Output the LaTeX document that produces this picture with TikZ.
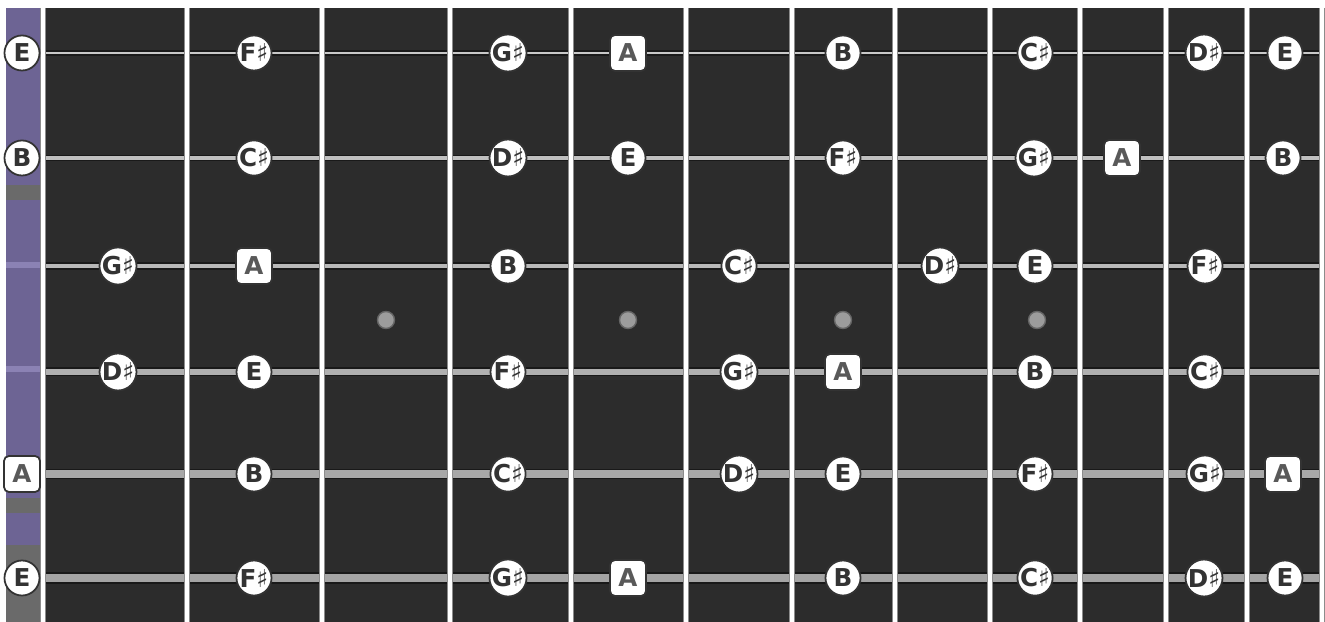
\documentclass[tikz,border=0pt]{standalone}
\usepackage{fontspec}
\setmainfont{DejaVu Sans}
\definecolor{board}{HTML}{2C2C2C}
\definecolor{nutpurple}{HTML}{6D6494}
\definecolor{nutlight}{HTML}{8B82B4}
\definecolor{nutgray}{HTML}{6A6A6A}
\definecolor{fretedge}{HTML}{8C8C8C}
\definecolor{inlay}{HTML}{9C9C9C}
\begin{document}
\begin{tikzpicture}[x=0.01cm,y=-0.01cm,
  note/.style={circle,fill=white,draw=black!80,line width=0.5pt,minimum size=0.35cm,inner sep=0pt,
    font=\fontsize{7}{7}\selectfont\bfseries,text=black!80},
  rootnote/.style={rectangle,rounded corners=0.05cm,fill=white,draw=black!80,line width=0.5pt,
    minimum size=0.36cm,inner sep=0pt,font=\fontsize{7}{7}\selectfont\bfseries,text=black!65},
  dotmark/.style={circle,fill=inlay,draw=black!60,line width=0.4pt,minimum size=0.17cm,inner sep=0pt},
  fretline/.style={line width=0.065cm,draw=fretedge},
  fretcore/.style={line width=0.035cm,draw=white},
]
% canvas
\useasboundingbox (0,0) rectangle (1325,622);
\fill[white] (0,0) rectangle (1325,622);
\fill[board] (40,8) rectangle (1325,622);
% left strip (nut area)
\fill[nutpurple] (6,8) rectangle (40,622);
\fill[nutgray] (6,185) rectangle (40,200);
\fill[nutgray] (6,498) rectangle (40,513);
\fill[nutgray] (6,545) rectangle (40,622);
\fill[nutlight] (6,262) rectangle (40,268);
\fill[nutlight] (6,366) rectangle (40,372);
% strings
\foreach \i/\y/\w/\c in {1/53/0.028/C8C8C8, 2/158/0.035/C0C0C0, 3/266/0.045/B8B8B8, 4/372/0.06/B0B0B0, 5/474/0.07/A8A8A8, 6/578/0.085/A4A4A4}{
  \coordinate (s\i a) at (43,\y);
  \coordinate (s\i b) at (1325,\y);
  \draw[line width=\w cm+0.03cm,black!90] (s\i a) -- (s\i b);
  \definecolor{strc}{HTML}{\c}
  \draw[line width=\w cm,strc] (s\i a) -- (s\i b);
}
% frets
\foreach \k/\x in {0/43,1/187,2/322,3/450,4/571,5/686,6/792,7/895,8/990,9/1080,10/1166,11/1247,12/1322}{
  \coordinate (f\k t) at (\x,8);
  \coordinate (f\k b) at (\x,622);
  \draw[fretline] (f\k t) -- (f\k b);
  \draw[fretcore] (f\k t) -- (f\k b);
}
% inlays
\node[dotmark] (d3) at (386,320) {};
\node[dotmark] (d5) at (628,320) {};
\node[dotmark] (d7) at (843,320) {};
\node[dotmark] (d9) at (1037,320) {};
% string 1 (high E)
\node[note] (n1-0) at (22,53) {E};
\node[note] (n1-2) at (254,53) {F♯};
\node[note] (n1-4) at (508,53) {G♯};
\node[rootnote] (n1-5) at (628,53) {A};
\node[note] (n1-7) at (843,53) {B};
\node[note] (n1-9) at (1035,53) {C♯};
\node[note] (n1-11) at (1204,53) {D♯};
\node[note] (n1-12) at (1285,53) {E};
% string 2 (B)
\node[note] (n2-0) at (22,158) {B};
\node[note] (n2-2) at (254,158) {C♯};
\node[note] (n2-4) at (508,158) {D♯};
\node[note] (n2-5) at (628,158) {E};
\node[note] (n2-7) at (843,158) {F♯};
\node[note] (n2-9) at (1034,158) {G♯};
\node[rootnote] (n2-10) at (1122,158) {A};
\node[note] (n2-12) at (1283,158) {B};
% string 3 (G)
\node[note] (n3-1) at (118,266) {G♯};
\node[rootnote] (n3-2) at (254,266) {A};
\node[note] (n3-4) at (508,266) {B};
\node[note] (n3-6) at (739,266) {C♯};
\node[note] (n3-8) at (940,266) {D♯};
\node[note] (n3-9) at (1035,266) {E};
\node[note] (n3-11) at (1205,266) {F♯};
% string 4 (D)
\node[note] (n4-1) at (118,372) {D♯};
\node[note] (n4-2) at (254,372) {E};
\node[note] (n4-4) at (508,372) {F♯};
\node[note] (n4-6) at (739,372) {G♯};
\node[rootnote] (n4-7) at (843,372) {A};
\node[note] (n4-9) at (1035,372) {B};
\node[note] (n4-11) at (1205,372) {C♯};
% string 5 (A)
\node[rootnote] (n5-0) at (22,474) {A};
\node[note] (n5-2) at (254,474) {B};
\node[note] (n5-4) at (508,474) {C♯};
\node[note] (n5-6) at (739,474) {D♯};
\node[note] (n5-7) at (843,474) {E};
\node[note] (n5-9) at (1035,474) {F♯};
\node[note] (n5-11) at (1205,474) {G♯};
\node[rootnote] (n5-12) at (1283,474) {A};
% string 6 (low E)
\node[note] (n6-0) at (22,578) {E};
\node[note] (n6-2) at (254,578) {F♯};
\node[note] (n6-4) at (508,578) {G♯};
\node[rootnote] (n6-5) at (628,578) {A};
\node[note] (n6-7) at (843,578) {B};
\node[note] (n6-9) at (1035,578) {C♯};
\node[note] (n6-11) at (1204,578) {D♯};
\node[note] (n6-12) at (1285,578) {E};
\end{tikzpicture}
\end{document}
